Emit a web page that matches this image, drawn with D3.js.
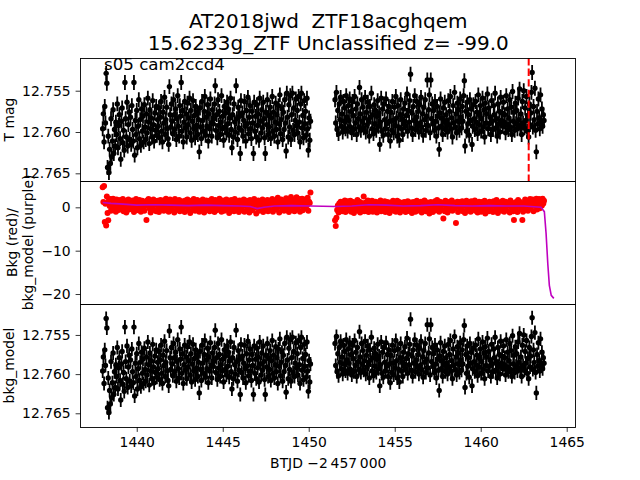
<!DOCTYPE html>
<html><head><meta charset="utf-8">
<script src="https://cdn.jsdelivr.net/npm/d3@7"></script>
<style>body{margin:0;background:#fff} svg{display:block} text{font-family:"DejaVu Sans",sans-serif;white-space:pre}</style>
</head><body><svg id="c" width="640" height="480"></svg>
<script>
// ---------- data ----------
const titleLines = ["AT2018jwd  ZTF18acghqem", "15.6233g_ZTF Unclassified z= -99.0"];
const panelNote = "s05 cam2ccd4";
const segStarts = [1438.02, 1451.53];
const segEnds = [1450.10, 1463.68];
const tmagSeg1 = [
12.7596,12.7578,12.7612,12.7569,12.7589,12.7529,12.7541,12.7643,12.7605,12.7649,12.7621,12.7638,12.7584,12.7630,12.7611,12.7573,12.7626,12.7597,12.7617,12.7588,
12.7603,12.7566,12.7619,12.7592,12.7579,12.7608,12.7633,12.7587,12.7571,12.7613,12.7598,12.7622,12.7540,12.7584,12.7606,12.7564,12.7617,12.7591,12.7576,12.7609,
12.7582,12.7615,12.7568,12.7597,12.7611,12.7540,12.7628,12.7586,12.7603,12.7574,12.7619,12.7593,12.7561,12.7608,12.7585,12.7616,12.7572,12.7599,12.7581,12.7612,
12.7567,12.7594,12.7609,12.7578,12.7601,12.7559,12.7588,12.7614,12.7573,12.7596,12.7583,12.7606,12.7562,12.7591,12.7611,12.7577,12.7598,12.7569,12.7604,12.7585,
12.7593,12.7571,12.7607,12.7582,12.7563,12.7599,12.7612,12.7576,12.7589,12.7558,12.7603,12.7585,12.7570,12.7596,12.7608,12.7615,12.7545,12.7579,12.7594,12.7566,
12.7587,12.7602,12.7561,12.7579,12.7597,12.7572,12.7609,12.7584,12.7556,12.7593,12.7605,12.7568,12.7581,12.7540,12.7599,12.7574,12.7612,12.7588,12.7563,12.7595,
12.7578,12.7606,12.7565,12.7591,12.7583,12.7559,12.7601,12.7574,12.7610,12.7587,12.7562,12.7596,12.7580,12.7607,12.7569,12.7592,12.7576,12.7603,12.7585,12.7624,
12.7571,12.7594,12.7608,12.7563,12.7586,12.7599,12.7575,12.7557,12.7604,12.7582,12.7593,12.7567,12.7611,12.7578,12.7596,12.7560,12.7589,12.7605,12.7573,12.7590,
12.7584,12.7566,12.7544,12.7598,12.7579,12.7607,12.7561,12.7592,12.7575,12.7603,12.7588,12.7556,12.7596,12.7581,12.7610,12.7569,12.7594,12.7577,12.7601,12.7564,
12.7590,12.7572,12.7604,12.7583,12.7559,12.7597,12.7619,12.7579,12.7606,12.7566,12.7588,12.7600,12.7544,12.7584,12.7609,12.7570,12.7595,12.7581,12.7626,12.7562,
12.7598,12.7577,12.7605,12.7586,12.7563,12.7593,12.7611,12.7574,12.7590,12.7558,12.7602,12.7582,12.7568,12.7596,12.7608,12.7575,12.7589,12.7626,12.7564,12.7599,
12.7581,12.7606,12.7567,12.7592,12.7578,12.7610,12.7559,12.7587,12.7601,12.7573,12.7595,12.7564,12.7584,12.7607,12.7626,12.7576,12.7591,12.7561,12.7603,12.7580,
12.7594,12.7570,12.7608,12.7583,12.7557,12.7599,12.7576,12.7605,12.7588,12.7565,12.7597,12.7579,12.7612,12.7568,12.7590,12.7555,12.7602,12.7585,12.7572,12.7609,
12.7576,12.7597,12.7561,12.7589,12.7623,12.7553,12.7582,12.7606,12.7567,12.7594,12.7556,12.7609,12.7579,12.7553,12.7598,12.7571,12.7603,12.7586,12.7560,12.7592,
12.7574,12.7601,12.7557,12.7588,12.7612,12.7566,12.7553,12.7595,12.7580,12.7607,12.7562,12.7590,12.7575,12.7604,12.7559,12.7596,12.7622,12.7583,12.7610,12.7587];
const tmagSeg2 = [
12.7561,12.7589,12.7552,12.7597,12.7574,12.7602,12.7566,12.7585,12.7558,12.7593,12.7578,12.7600,12.7563,12.7587,12.7571,12.7596,12.7556,12.7582,12.7599,12.7568,
12.7586,12.7560,12.7594,12.7575,12.7601,12.7563,12.7580,12.7597,12.7557,12.7589,12.7572,12.7603,12.7566,12.7584,12.7594,12.7546,12.7578,12.7598,12.7561,12.7587,
12.7570,12.7595,12.7583,12.7558,12.7600,12.7576,12.7591,12.7564,12.7587,12.7605,12.7569,12.7582,12.7553,12.7596,12.7579,12.7602,12.7567,12.7590,12.7574,12.7598,
12.7581,12.7562,12.7593,12.7577,12.7615,12.7588,12.7559,12.7599,12.7572,12.7604,12.7566,12.7585,12.7596,12.7560,12.7590,12.7575,12.7603,12.7569,12.7587,12.7611,
12.7576,12.7598,12.7563,12.7586,12.7601,12.7570,12.7592,12.7557,12.7583,12.7605,12.7568,12.7594,12.7610,12.7579,12.7561,12.7596,12.7584,12.7603,12.7572,12.7589,
12.7565,12.7593,12.7580,12.7554,12.7599,12.7574,12.7588,12.7562,12.7530,12.7595,12.7577,12.7603,12.7569,12.7586,12.7556,12.7597,12.7582,12.7563,12.7591,12.7575,
12.7600,12.7567,12.7589,12.7558,12.7594,12.7578,12.7604,12.7570,12.7585,12.7561,12.7598,12.7581,12.7537,12.7592,12.7573,12.7555,12.7601,12.7537,12.7584,12.7566,
12.7590,12.7574,12.7598,12.7563,12.7587,12.7605,12.7569,12.7581,12.7595,12.7621,12.7577,12.7560,12.7593,12.7583,12.7603,12.7571,12.7588,12.7564,12.7597,12.7579,
12.7586,12.7600,12.7562,12.7591,12.7575,12.7557,12.7596,12.7583,12.7606,12.7568,12.7589,12.7552,12.7594,12.7578,12.7601,12.7565,12.7587,12.7573,12.7598,12.7560,
12.7582,12.7595,12.7569,12.7587,12.7556,12.7538,12.7617,12.7575,12.7599,12.7564,12.7590,12.7579,12.7604,12.7561,12.7586,12.7572,12.7615,12.7593,12.7567,12.7584,
12.7597,12.7563,12.7588,12.7576,12.7602,12.7555,12.7591,12.7580,12.7568,12.7599,12.7584,12.7559,12.7594,12.7573,12.7606,12.7565,12.7589,12.7578,12.7554,12.7596,
12.7571,12.7590,12.7582,12.7603,12.7562,12.7587,12.7597,12.7568,12.7579,12.7553,12.7595,12.7584,12.7605,12.7566,12.7590,12.7575,12.7600,12.7558,12.7586,12.7577,
12.7593,12.7564,12.7588,12.7579,12.7601,12.7556,12.7591,12.7572,12.7597,12.7583,12.7561,12.7594,12.7570,12.7603,12.7551,12.7587,12.7576,12.7598,12.7565,12.7590,
12.7574,12.7596,12.7559,12.7585,12.7548,12.7592,12.7578,12.7603,12.7563,12.7589,12.7550,12.7595,12.7571,12.7586,12.7557,12.7599,12.7580,12.7606,12.7566,12.7591,
12.7577,12.7552,12.7528,12.7594,12.7569,12.7585,12.7547,12.7598,12.7624,12.7575,12.7590,12.7560,12.7583,12.7596,12.7555,12.7588,12.7572,12.7593,12.7579,12.7586];
const tmagErr = 0.0009;
const bkgSeg1 = [
4.6,1.2,4.9,-3.4,0.8,-4.2,2.5,-1.3,-3.0,1.6,0.3,1.9,-0.8,1.1,0.5,2.0,-0.4,1.4,0.7,-1.0,
1.8,0.2,1.3,-0.6,0.9,1.7,-0.2,1.0,0.4,1.9,-0.9,0.7,1.5,0.1,-1.2,1.2,0.6,1.8,-0.5,0.9,
1.4,-0.3,0.8,1.6,0.0,-1.1,1.1,0.5,1.9,-0.7,1.3,0.3,-0.4,1.7,0.9,-1.0,0.6,1.5,0.2,1.0,
-0.8,1.2,0.4,-2.9,1.6,0.7,1.9,-0.2,1.0,-1.2,0.5,1.4,0.1,1.8,-0.6,0.9,1.3,-0.9,0.6,1.5,
0.2,-1.1,1.1,1.7,-0.4,0.8,0.3,1.6,-0.8,1.2,0.6,2.0,-0.3,0.9,1.4,-1.0,0.4,1.8,0.0,1.1,
-0.7,1.5,0.7,-1.2,1.9,0.3,1.0,-0.5,1.3,0.5,1.7,-0.9,0.8,0.1,1.4,-0.2,1.1,0.6,-1.1,1.6,
0.9,0.2,1.8,-0.6,1.2,0.4,-1.3,1.5,0.7,1.0,-0.4,1.9,0.3,-0.8,1.3,0.6,1.7,-0.1,0.8,-1.0,
1.4,0.5,-0.7,1.1,1.8,0.0,-1.2,1.3,0.7,1.6,-0.3,0.9,0.2,1.5,-0.9,1.2,0.4,1.9,-0.5,0.8,
1.0,-1.1,1.7,0.3,1.4,-0.6,0.9,0.6,2.0,-0.2,1.2,-1.0,0.5,1.6,0.1,-0.8,1.3,0.7,1.8,-0.4,
0.6,1.5,-1.3,1.0,0.2,1.7,-0.5,1.2,0.8,-0.9,1.9,0.4,1.1,-0.2,1.4,0.0,-1.1,1.6,0.7,1.0,
-0.6,1.3,0.5,1.8,-1.0,0.9,0.3,1.5,-0.3,1.1,0.6,-1.2,1.7,0.2,1.0,-0.7,1.4,0.4,1.9,-0.1,
0.8,-1.4,1.2,0.5,1.6,-0.8,0.1,1.3,-0.4,0.9,1.8,-1.1,0.6,1.4,-0.2,1.0,0.3,1.7,-0.9,1.1,
0.4,1.5,-0.6,1.0,1.9,-1.0,0.7,1.3,0.0,1.6,-0.5,0.9,2.2,0.3,-1.2,1.2,0.6,1.8,-0.3,0.8,
1.4,-0.8,1.1,0.5,2.1,-0.2,0.9,1.6,-1.1,1.3,0.4,2.4,-0.6,1.0,1.7,0.2,-0.9,1.5,0.8,2.3,
-0.4,1.2,0.6,1.9,-1.0,1.4,0.3,2.0,-0.7,1.1,0.7,1.8,-0.2,1.5,0.5,2.2,-0.8,1.3,1.0,3.4];
const bkgSeg2 = [
-3.0,-4.3,-2.4,-0.6,0.4,-1.2,0.9,-0.3,1.3,0.2,-0.9,1.1,0.5,-0.4,1.6,-1.1,0.7,0.0,1.4,-0.7,
0.8,0.3,1.5,-1.0,0.6,-0.2,1.2,-1.3,0.4,1.0,-0.5,0.9,1.7,-0.8,0.2,1.3,-1.2,0.6,1.0,-0.3,
0.8,2.5,-0.9,0.3,1.1,-0.6,0.5,1.6,-1.1,0.1,1.2,-0.4,0.7,1.5,-1.0,0.4,0.9,-0.7,1.3,0.0,
-1.2,0.6,1.1,-0.5,0.8,1.6,-0.9,0.2,1.0,-0.3,0.5,1.4,-1.1,0.7,0.1,1.2,-0.6,0.9,-1.3,0.4,
1.1,-0.2,0.6,1.5,-0.8,0.3,0.9,-1.0,0.5,1.5,-0.4,0.2,1.2,-1.2,0.8,-0.7,1.0,0.3,-0.5,1.2,
0.0,-1.1,0.9,0.4,1.4,-0.5,0.7,-0.9,1.1,0.2,-1.3,0.6,1.2,-0.3,0.8,-1.0,0.4,1.5,-0.6,0.1,
1.0,-0.8,0.5,1.3,-1.2,0.3,0.9,-0.4,1.6,0.0,-0.9,0.7,1.1,-0.6,0.4,-1.4,0.8,1.2,-0.2,0.6,
-1.1,1.0,0.3,1.4,-0.7,0.5,1.7,-0.3,0.9,-1.0,1.3,0.2,-0.5,1.1,0.6,-2.6,0.8,-0.9,1.5,0.1,
0.7,-1.2,1.2,0.4,-0.6,1.0,0.3,1.6,-0.8,0.5,1.1,-0.2,0.9,-3.6,0.4,1.3,-1.1,0.7,0.0,1.2,
-0.5,0.8,1.4,-0.9,0.3,1.0,-1.3,0.6,1.5,-0.1,0.9,-0.7,1.2,0.2,-1.0,1.4,0.5,-0.4,1.1,0.3,
1.6,-0.8,0.4,1.0,-1.2,0.7,1.3,-0.3,0.5,-1.0,1.2,0.1,0.8,-0.6,1.5,-1.4,0.6,1.0,-0.2,0.9,
-0.9,1.3,0.2,-0.5,1.1,0.6,-1.1,1.4,0.3,0.9,-0.7,1.7,0.0,-1.3,1.0,0.5,-0.4,1.2,0.7,-0.8,
1.5,0.1,-1.0,0.9,1.3,-0.6,0.4,0.7,1.1,0.6,-1.2,1.6,0.2,-0.3,1.0,-0.9,-2.9,0.5,-0.5,1.2,
0.3,-1.1,1.7,0.4,0.8,1.2,-0.4,0.6,-2.9,-1.0,0.9,0.2,1.8,-0.6,1.1,0.5,-0.8,1.4,0.7,1.9,
-0.3,1.2,0.6,1.8,-0.9,1.0,1.5,0.3,2.0,-0.5,1.3,0.8,1.9,-0.2,1.1,1.6,0.4,2.0,0.9,1.5];
const modelT = [1438.02,1438.5,1439.0,1440.0,1441.0,1442.0,1443.0,1444.0,1445.0,1446.0,1446.6,1447.0,1447.4,1448.0,1449.0,1450.1,
  1451.53,1452.5,1453.5,1454.5,1455.5,1456.5,1457.5,1458.5,1459.5,1460.5,1461.5,1462.5,1463.5,1463.70,1463.80,1463.90,1463.99,1464.10,1464.25];
const modelV = [1.1,0.9,0.8,0.5,0.6,0.5,0.4,0.5,0.4,0.3,0.2,-0.3,0.0,0.3,0.4,0.3,
  0.2,0.3,0.6,0.5,0.3,0.4,0.6,0.4,0.3,0.4,0.3,0.3,0.0,-1.0,-6.0,-13.0,-18.0,-20.3,-21.0];
const flagT = 1462.79;
const xTicks = [1440,1445,1450,1455,1460,1465];
const magTicks = [12.755,12.760,12.765];
const bkgTicks = [0,-10,-20];
const yLabels = [["T mag"],["Bkg (red)/","bkg_model (purple)"],["bkg_model"]];
const xLabel = "BTJD \u22122\u2009457\u2009000";

// ---------- layout ----------
const L = 80.5, R = 576;
const P = [{t:58,b:181},{t:181,b:304},{t:304,b:427}];
const svg = d3.select("#c");
const x = d3.scaleLinear().domain([1436.73,1465.54]).range([L,R]);
const y1 = d3.scaleLinear().domain([12.75104,12.76593]).range([P[0].t,P[0].b]);
const y2 = d3.scaleLinear().domain([6.07,-22.3]).range([P[1].t,P[1].b]);
const y3 = d3.scaleLinear().domain([12.75105,12.76675]).range([P[2].t,P[2].b]);

function times(k,n){ return d3.range(n).map(i => segStarts[k] + i*(segEnds[k]-segStarts[k])/(n-1)); }
const magPts = times(0,tmagSeg1.length).map((t,i)=>({t,v:tmagSeg1[i]}))
  .concat(times(1,tmagSeg2.length).map((t,i)=>({t,v:tmagSeg2[i]})));
const bkgPts = times(0,bkgSeg1.length).map((t,i)=>({t,v:bkgSeg1[i]}))
  .concat(times(1,bkgSeg2.length).map((t,i)=>({t,v:bkgSeg2[i]})));

const defs = svg.append("defs");
P.forEach((p,i)=>{
  defs.append("clipPath").attr("id","cp"+i).append("rect")
    .attr("x",L).attr("y",p.t).attr("width",R-L).attr("height",p.b-p.t);
});

// title
svg.append("g").selectAll("text").data(titleLines).join("text")
  .attr("x",(L+R)/2).attr("y",(d,i)=>28+i*22).attr("text-anchor","middle")
  .attr("xml:space","preserve")
  .attr("font-size","20px").attr("fill","#000").text(d=>d);

// note text (under data)
svg.append("text").attr("x",104).attr("y",70).attr("font-size","16.67px").text(panelNote);

function errPanel(ys, idx){
  const g = svg.append("g").attr("clip-path",`url(#cp${idx})`);
  g.append("g").selectAll("line").data(magPts).join("line")
    .attr("x1",d=>x(d.t)).attr("x2",d=>x(d.t))
    .attr("y1",d=>ys(d.v-tmagErr)).attr("y2",d=>ys(d.v+tmagErr))
    .attr("stroke","#000").attr("stroke-width",1.8);
  g.append("g").selectAll("circle").data(magPts).join("circle")
    .attr("cx",d=>x(d.t)).attr("cy",d=>ys(d.v)).attr("r",2.7).attr("fill","#000");
  return g;
}
const g1 = errPanel(y1,0);
g1.append("line").attr("x1",x(flagT)).attr("x2",x(flagT)).attr("y1",P[0].t).attr("y2",P[0].b)
  .attr("stroke","red").attr("stroke-width",2).attr("stroke-dasharray","7.4,3.2");
errPanel(y3,2);

const g2 = svg.append("g").attr("clip-path","url(#cp1)");
g2.append("g").selectAll("circle").data(bkgPts).join("circle")
  .attr("cx",d=>x(d.t)).attr("cy",d=>y2(d.v)).attr("r",3).attr("fill","#ff0000");
g2.append("path").datum(modelT.map((t,i)=>({t,v:modelV[i]})))
  .attr("d",d3.line().x(d=>x(d.t)).y(d=>y2(d.v)))
  .attr("fill","none").attr("stroke","#bf00bf").attr("stroke-width",1.6);

// frames
P.forEach(p=>{
  svg.append("rect").attr("x",L).attr("y",p.t+0.5).attr("width",R-L-0.5).attr("height",p.b-p.t)
    .attr("fill","none").attr("stroke","#000").attr("stroke-width",0.9);
});

// axes
function styleAxis(g){
  g.select(".domain").remove();
  g.selectAll(".tick line").attr("stroke","#000").attr("stroke-width",0.8);
  g.selectAll(".tick text").attr("font-family","DejaVu Sans").attr("font-size","13.9px").attr("fill","#000");
}
svg.append("g").attr("transform",`translate(${L},0)`)
  .call(d3.axisLeft(y1).tickValues(magTicks).tickFormat(d3.format(".3f")).tickSize(4.9).tickPadding(4.9)).call(styleAxis);
svg.append("g").attr("transform",`translate(${L},0)`)
  .call(d3.axisLeft(y2).tickValues(bkgTicks).tickFormat(d3.format("d")).tickSize(4.9).tickPadding(4.9)).call(styleAxis);
svg.append("g").attr("transform",`translate(${L},0)`)
  .call(d3.axisLeft(y3).tickValues(magTicks).tickFormat(d3.format(".3f")).tickSize(4.9).tickPadding(4.9)).call(styleAxis);
svg.append("g").attr("transform",`translate(0,${P[2].b})`)
  .call(d3.axisBottom(x).tickValues(xTicks).tickFormat(d3.format("d")).tickSize(4.9).tickPadding(4.9)).call(styleAxis);

// y labels
const ylx = [[13.5],[16.5,33],[13.5]];
yLabels.forEach((lines,i)=>{
  const cy = (P[i].t+P[i].b)/2;
  lines.forEach((s,j)=>{
    svg.append("text").attr("transform",`translate(${ylx[i][j]},${cy}) rotate(-90)`)
      .attr("text-anchor","middle").attr("font-size","13.9px").text(s);
  });
});
svg.append("text").attr("x",(L+R)/2).attr("y",468).attr("text-anchor","middle")
  .attr("font-size","13.9px").text(xLabel);
</script></body></html>
